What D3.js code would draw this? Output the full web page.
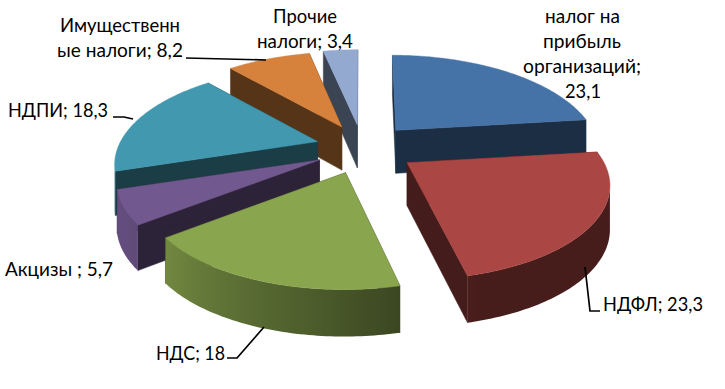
<!DOCTYPE html>
<html>
<head>
<meta charset="utf-8">
<script src="https://cdn.jsdelivr.net/npm/d3@7"></script>
<style>
  html, body { margin: 0; padding: 0; background: #fff; }
  text { font-family: Lato, "Open Sans", sans-serif; font-size: 19px; fill: #000; }
</style>
</head>
<body>
<div id="chart"></div>
<script>
// share of each tax, percent
var categories = ["налог на прибыль организаций", "НДФЛ", "НДС", "Акцизы ", "НДПИ", "Имущественные налоги", "Прочие налоги"];
var values = [23.1, 23.3, 18, 5.7, 18.3, 8.2, 3.4];
var valueLabels = ["23,1", "23,3", "18", "5,7", "18,3", "8,2", "3,4"];
var colors = ["#4572a7", "#aa4643", "#89a54e", "#71588f", "#4198af", "#d6813c", "#93a9cf"];

var width = 725, height = 389;

// pie seen in perspective: radius in px across and along the table, and how fast it shrinks backwards
var centre = {x: 362, y: 148};
var radiusX = 197, radiusY = 91.4, perspective = 0.218, explode = 0.27;
// slices pulled to the left move a little less on screen
var leftPull = 0.88;
// lines running away from the viewer lean towards the middle
var lean = 0.1;

var depth = d3.scaleLinear().domain([-1, 1]).range([47, 39]);
// the rim is lit from the left, so it darkens towards the lower right
var rimShade = d3.scaleLinear().domain([165, 240]).range([0.42, 0.88]).clamp(true);
var sideShade = 0.4;

function project(a, r) {
  var X = r * Math.sin(a), Y = r * Math.cos(a), k = 1 + perspective * Y;
  return [radiusX * X / k, -radiusY * Y / k];
}

function shade(color, f) {
  var c = d3.rgb(color);
  return d3.rgb(c.r * f, c.g * f, c.b * f).formatHex();
}

var svg = d3.select("#chart").append("svg")
  .attr("width", width)
  .attr("height", height)
  .style("display", "block");
var defs = svg.append("defs");

var pie = d3.pie().sort(null).value(function(d) { return d; });
var line = d3.line().curve(d3.curveLinear);

var slices = pie(values).map(function(d, i) {
  var p = project((d.startAngle + d.endAngle) / 2, explode);
  d.apex = [centre.x + p[0] * (p[0] < 0 ? leftPull : 1), centre.y + p[1]];
  d.color = colors[i];
  d.index = i;
  return d;
});

function rimPoint(d, a) {
  var p = project(a, 1);
  return [d.apex[0] + p[0] - lean * (d.apex[0] - centre.x) * Math.cos(a), d.apex[1] + p[1]];
}
function drop(pt, a) {
  return [pt[0], pt[1] + depth(Math.cos(a))];
}

function drawSlice(d) {
  var g = svg.append("g");
  var angles = d3.range(d.startAngle, d.endAngle, Math.PI / 180).concat([d.endAngle]);
  var rim = angles.map(function(a) { return rimPoint(d, a); });
  var apexLow = [d.apex[0], d.apex[1] + depth(0)];
  var sideColor = shade(d.color, sideShade);

  // radial walls
  [d.startAngle, d.endAngle].forEach(function(a) {
    var pt = rimPoint(d, a);
    g.append("path")
      .attr("d", line([d.apex, pt, drop(pt, a), apexLow]) + "Z")
      .attr("fill", sideColor)
      .attr("stroke", sideColor)
      .attr("stroke-width", 0.5);
  });

  // outer wall: only the part of the rim that runs right to left faces the viewer
  var front = angles.filter(function(a, i) {
    var next = rimPoint(d, a + 0.01);
    return next[0] < rim[i][0];
  });
  if (front.length > 1) {
    var x0 = rimPoint(d, front[0])[0], x1 = rimPoint(d, front[front.length - 1])[0];
    var id = "rim" + d.index;
    var grad = defs.append("linearGradient")
      .attr("id", id)
      .attr("gradientUnits", "userSpaceOnUse")
      .attr("x1", x0).attr("x2", x1)
      .attr("y1", 0).attr("y2", 0);
    front.forEach(function(a) {
      grad.append("stop")
        .attr("offset", (rimPoint(d, a)[0] - x0) / (x1 - x0))
        .attr("stop-color", shade(d.color, rimShade(a * 180 / Math.PI)));
    });
    var topEdge = front.map(function(a) { return rimPoint(d, a); });
    var lowEdge = front.map(function(a) { return drop(rimPoint(d, a), a); }).reverse();
    g.append("path")
      .attr("d", line(topEdge.concat(lowEdge)) + "Z")
      .attr("fill", "url(#" + id + ")");
  }

  // top
  g.append("path")
    .attr("d", line([d.apex].concat(rim)) + "Z")
    .attr("fill", d.color)
    .attr("stroke", d.color)
    .attr("stroke-width", 0.5);
}

// back slices first
[6, 5, 4, 3, 2, 0, 1].forEach(function(i) { drawSlice(slices[i]); });

// labels are wrapped and placed by hand as in the original: where each line ends, its left edge and width
var labelLayout = [
  {breaks: [8, 16, 29], x: [545, 543, 523, 565], w: [75, 78, 118, 36], y: 23, step: 25},
  {breaks: [], x: [603], w: [100], y: 311, step: 0},
  {breaks: [], x: [156], w: [69], y: 360, step: 0},
  {breaks: [], x: [5], w: [108], y: 276, step: 0},
  {breaks: [], x: [8], w: [100], y: 117, step: 0},
  {breaks: [11], x: [60, 57], w: [120, 126], y: 32, step: 25},
  {breaks: [6], x: [273, 257], w: [64, 96], y: 23, step: 25}
];
var leaders = [
  [[585, 267], [590, 311], [600, 311]],
  [[264, 327], [237, 358], [227, 358]],
  [[133, 119], [124, 117], [113, 117]],
  [[266, 60], [186, 58]]
];

labelLayout.forEach(function(l, i) {
  var full = categories[i] + "; " + valueLabels[i];
  var cuts = [0].concat(l.breaks, [full.length]);
  var t = svg.append("text");
  d3.pairs(cuts).forEach(function(c, j) {
    t.append("tspan")
      .attr("x", l.x[j])
      .attr("y", l.y + j * l.step)
      .attr("textLength", l.w[j])
      .attr("lengthAdjust", "spacingAndGlyphs")
      .text(full.slice(c[0], c[1]).trim());
  });
});

leaders.forEach(function(pts) {
  svg.append("path")
    .attr("d", line(pts))
    .attr("fill", "none")
    .attr("stroke", "#000")
    .attr("stroke-width", 1.7);
});
</script>
</body>
</html>
